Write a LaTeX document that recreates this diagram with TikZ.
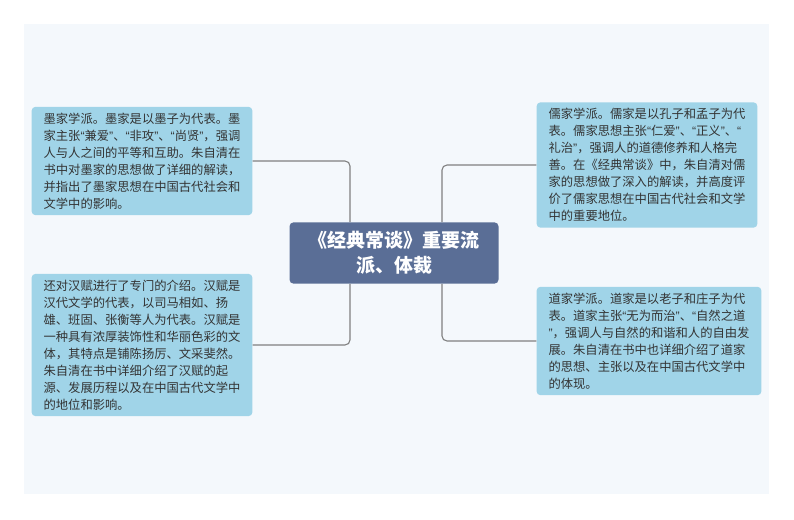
\documentclass[tikz,border=0pt]{standalone}
\usepackage{fontspec}
\setmainfont{Noto Sans CJK SC}
\newfontfamily\quotefont{Liberation Sans}
\usepackage{xcolor}
\usetikzlibrary{positioning}
\definecolor{panelbg}{HTML}{F4F8FC}
\definecolor{leafbg}{HTML}{A0D4E8}
\definecolor{rootbg}{HTML}{5A6E96}
\definecolor{inkgray}{HTML}{333333}
\definecolor{linkgray}{HTML}{808080}
\newcommand\qL{{\quotefont “}}
\newcommand\qR{{\quotefont ”}}

\begin{document}
\begin{tikzpicture}[x=1pt,y=-1pt,
    leaf/.style={fill=leafbg,rounded corners=4pt,text=inkgray,align=left,
      inner xsep=12pt,inner ysep=6pt,font={\fontsize{12.3}{17}\selectfont}},
    root/.style={fill=rootbg,rounded corners=4pt,text=white,align=center,
      inner xsep=19pt,inner ysep=9pt,font={\bfseries\fontsize{19}{25}\selectfont}},
    link/.style={draw=linkgray,line width=1.1pt,rounded corners=5pt}]
    \useasboundingbox (0,0) rectangle (794,519);
    \fill[panelbg] (24,24) rectangle (769,494);
    \node[root] (main) at (394,253) {《经典常谈》重要流\\派、体裁};
    \node[leaf] (mo) at (142,161) {墨家学派。墨家是以墨子为代表。墨\\
      家主张\qL 兼爱\qR 、\qL 非攻\qR 、\qL 尚贤\qR ，强调\\
      人与人之间的平等和互助。朱自清在\\
      书中对墨家的思想做了详细的解读，\\
      并指出了墨家思想在中国古代社会和\\
      文学中的影响。};
    \node[leaf] (han) at (142,345) {还对汉赋进行了专门的介绍。汉赋是\\
      汉代文学的代表，以司马相如、扬\\
      雄、班固、张衡等人为代表。汉赋是\\
      一种具有浓厚装饰性和华丽色彩的文\\
      体，其特点是铺陈扬厉、文采斐然。\\
      朱自清在书中详细介绍了汉赋的起\\
      源、发展历程以及在中国古代文学中\\
      的地位和影响。};
    \node[leaf] (ru) at (647,165) {儒家学派。儒家是以孔子和孟子为代\\
      表。儒家思想主张\qL 仁爱\qR 、\qL 正义\qR 、\qL\\
      礼治\qR ，强调人的道德修养和人格完\\
      善。在《经典常谈》中，朱自清对儒\\
      家的思想做了深入的解读，并高度评\\
      价了儒家思想在中国古代社会和文学\\
      中的重要地位。};
    \node[leaf] (dao) at (649,341) {道家学派。道家是以老子和庄子为代\\
      表。道家主张\qL 无为而治\qR 、\qL 自然之道\\
      \qR ，强调人与自然的和谐和人的自由发\\
      展。朱自清在书中也详细介绍了道家\\
      的思想、主张以及在中国古代文学中\\
      的体现。};
    \coordinate (lx) at (350,0);
    \coordinate (rx) at (442,0);
    \draw[link] (main.north -| lx) |- (mo.east);
    \draw[link] (main.south -| lx) |- (han.east);
    \draw[link] (main.north -| rx) |- (ru.west);
    \draw[link] (main.south -| rx) |- (dao.west);
  \end{tikzpicture}
\end{document}
